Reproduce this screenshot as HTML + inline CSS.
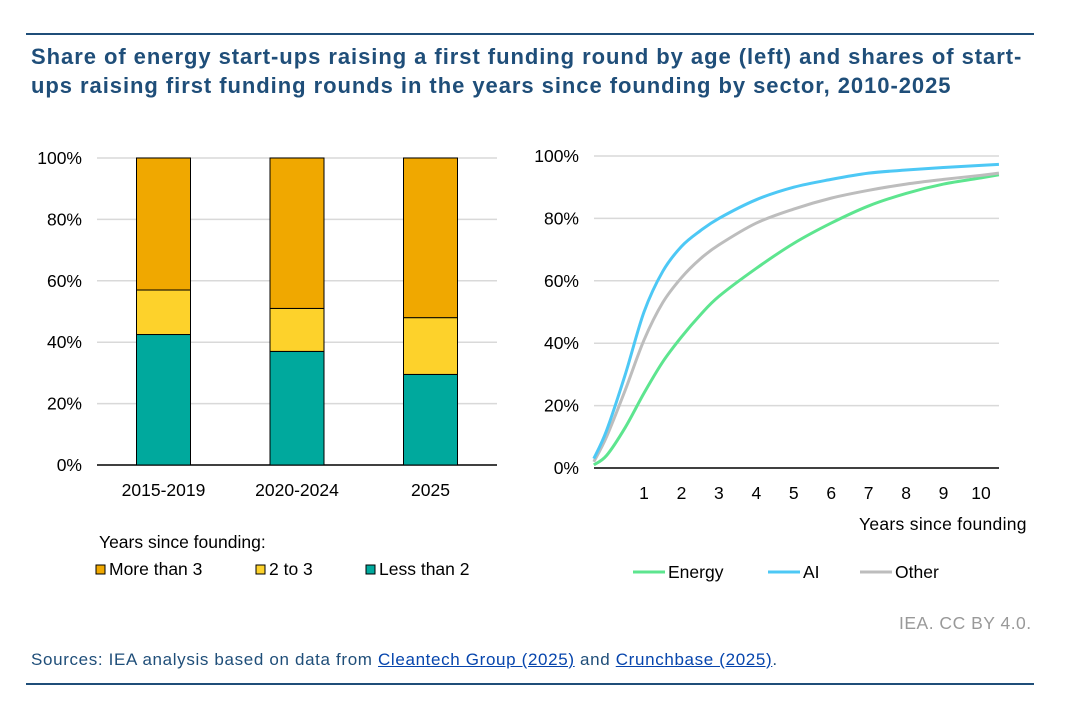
<!DOCTYPE html>
<html><head><meta charset="utf-8">
<style>
body{margin:0;background:#fff;font-family:"Liberation Sans",Arial,sans-serif;}
#wrap{position:relative;width:1078px;height:713px;overflow:hidden;}
.title{position:absolute;left:31px;top:42px;width:1040px;font-size:22px;letter-spacing:0.95px;font-weight:bold;color:#1f4e79;line-height:29px;white-space:nowrap;}
.hr{position:absolute;left:26px;width:1008px;height:2px;background:#1f4e79;}
.t{position:absolute;font-size:17.5px;color:#000;}
</style></head><body>
<div id="wrap">
<div class="hr" style="top:33px"></div>
<div class="title">Share of energy start-ups raising a first funding round by age (left) and shares of start-<br>ups raising first funding rounds in the years since founding by sector, 2010-2025</div>
<svg id="svg" width="1078" height="713" style="position:absolute;left:0;top:0"></svg>
<div class="t" style="left:99px;top:532px">Years since founding:</div>
<div class="t" style="left:859px;top:514px;letter-spacing:0.3px">Years since founding</div>
<div class="t" style="left:899px;top:613px;color:#999;letter-spacing:0.5px">IEA. CC BY 4.0.</div>
<div class="t" style="left:31px;top:650px;font-size:17px;letter-spacing:0.65px;color:#1f4e79">Sources: IEA analysis based on data from <u style="color:#0645ad">Cleantech Group (2025)</u> and <u style="color:#0645ad">Crunchbase (2025)</u>.</div>
<div class="hr" style="top:683px"></div>
</div>
<script>
const categories=["2015-2019","2020-2024","2025"];
const lessThan2=[42.5,37,29.5];
const twoTo3=[14.5,14,18.5];
const moreThan3=[43,49,52];
const leftTicks=[0,20,40,60,80,100];

const years=[-0.34,0,0.5,1,1.5,2,2.5,3,4,5,6,7,8,9,10,10.48];
const energy=[1,4,13,24,34,42,49,55,64,72,78.5,84,88,91,93,94];
const ai=[3,12,30,50,63,71,76,80,86,90,92.5,94.5,95.5,96.3,97,97.3];
const other=[2,10,25,41,53,61,67,71.5,78.5,83,86.5,89,91,92.5,93.8,94.5];
const rightTicks=[0,20,40,60,80,100];
const xTicks=[1,2,3,4,5,6,7,8,9,10];

const svg=document.getElementById('svg');
const NS='http://www.w3.org/2000/svg';
function mk(tag,attrs,parent){const e=document.createElementNS(NS,tag);for(const k in attrs)e.setAttribute(k,attrs[k]);(parent||svg).appendChild(e);return e;}
const FS=17.5;

const ly=v=>465-v*3.07;
const lx=i=>163.5+i*133.5;
leftTicks.forEach(v=>{
  const g=mk('line',{x1:97,x2:497,y1:ly(v),y2:ly(v),stroke:v?'#d9d9d9':'#000','stroke-width':1.5});
  
  
  const t=mk('text',{x:82,y:ly(v)+6,'text-anchor':'end','font-size':FS});
  t.textContent=v+'%';
  
  
});
const segColors=['#00a99d','#fdd22b','#f0a800'];
const segNames=['less-than-2','2-to-3','more-than-3'];
categories.forEach((c,i)=>{
  let base=0;
  [lessThan2[i],twoTo3[i],moreThan3[i]].forEach((v,k)=>{
    const r=mk('rect',{x:lx(i)-27,y:ly(base+v),width:54,height:ly(base)-ly(base+v),fill:segColors[k],stroke:'#000','stroke-width':1});
    
    
    base+=v;
  });
  const t=mk('text',{x:lx(i),y:496,'text-anchor':'middle','font-size':FS});
  t.textContent=c;
  
  
});
const legL=[['More than 3',96,2],['2 to 3',256,1],['Less than 2',366,0]];
legL.forEach(([n,x,k])=>{
  const r=mk('rect',{x:x,y:565,width:9,height:9,fill:segColors[k],stroke:'#000','stroke-width':1});
  
  
  const t=mk('text',{x:x+13,y:575,'font-size':FS});
  t.textContent=n;
  
  
});

const ry=v=>468-v*3.12;
const rx=t=>644+(t-1)*37.44;
rightTicks.forEach(v=>{
  const g=mk('line',{x1:594,x2:999,y1:ry(v),y2:ry(v),stroke:v?'#d9d9d9':'#000','stroke-width':1.5});
  
  
  const t=mk('text',{x:579,y:ry(v)+6,'text-anchor':'end','font-size':FS});
  t.textContent=v+'%';
  
  
});
xTicks.forEach(v=>{
  const t=mk('text',{x:rx(v),y:499,'text-anchor':'middle','font-size':FS});
  t.textContent=v;
  
  
});
function smoothPath(xs,ys){
  const p=xs.map((x,i)=>[rx(x),ry(ys[i])]);
  let d='M'+p[0][0]+','+p[0][1];
  for(let i=0;i<p.length-1;i++){
    const p0=p[i-1]||p[i],p1=p[i],p2=p[i+1],p3=p[i+2]||p2;
    const c1=[p1[0]+(p2[0]-p0[0])/6,p1[1]+(p2[1]-p0[1])/6];
    const c2=[p2[0]-(p3[0]-p1[0])/6,p2[1]-(p3[1]-p1[1])/6];
    d+=' C'+c1+' '+c2+' '+p2;
  }
  return d;
}
const series=[['energy',energy,'#5de58f'],['other',other,'#bdbdbd'],['ai',ai,'#4dc8f5']];
series.forEach(([n,vals,col])=>{
  const l=mk('path',{d:smoothPath(years,vals),fill:'none',stroke:col,'stroke-width':3});
  
  
});
const legR=[['Energy',633,'#5de58f'],['AI',768,'#4dc8f5'],['Other',860,'#bdbdbd']];
legR.forEach(([n,x,col])=>{
  const l=mk('line',{x1:x,x2:x+32,y1:572,y2:572,stroke:col,'stroke-width':3});
  
  
  const t=mk('text',{x:x+35,y:578,'font-size':FS});
  t.textContent=n;
  
  
});
</script>
</body></html>
